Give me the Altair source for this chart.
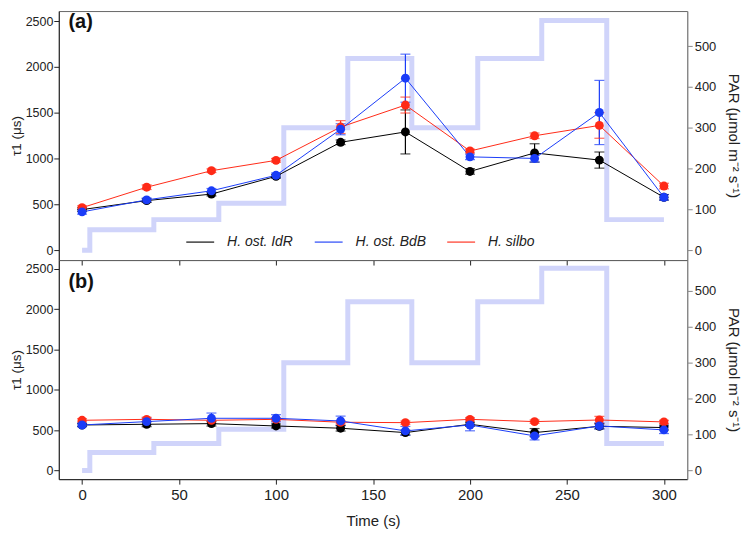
import altair as alt
import pandas as pd

# ---- data ----
times = [0, 33.3, 66.7, 100, 133.3, 166.7, 200, 233.3, 266.7, 300]
species = ["H. ost. IdR", "H. ost. BdB", "H. silbo"]
colors = ["#000000", "#1a3cf8", "#ff2a17"]

# panel (a)
a_idr = [445, 543, 614, 808, 1179, 1292, 861, 1063, 985, 579]
a_idr_err = [20, 20, 20, 20, 25, 240, 30, 100, 88, 30]
a_bdb = [420, 551, 650, 819, 1321, 1878, 1020, 1003, 1504, 579]
a_bdb_err = [25, 20, 25, 25, 60, 262, 30, 40, 350, 30]
a_sil = [466, 689, 869, 982, 1345, 1585, 1084, 1250, 1363, 702]
a_sil_err = [20, 25, 20, 20, 70, 87, 20, 30, 140, 30]

# panel (b)
b_idr = [566, 575, 583, 554, 526, 472, 575, 472, 550, 534]
b_idr_err = [20, 30, 30, 25, 35, 30, 25, 50, 30, 30]
b_bdb = [566, 608, 649, 649, 616, 493, 566, 431, 554, 505]
b_bdb_err = [20, 40, 65, 45, 60, 55, 72, 50, 40, 45]
b_sil = [624, 636, 624, 636, 600, 595, 636, 608, 628, 604]
b_sil_err = [20, 25, 20, 20, 20, 20, 20, 20, 45, 20]

# PAR light steps
par_t = [0, 4, 37, 70.5, 104, 137, 170, 204, 237, 270.5, 300]
par_v = [0, 50, 75, 115, 300, 470, 300, 470, 563, 75, 75]

panel_labels = ["(a)", "(b)"]
label_t = [-7, -7]
label_y = [2490, 2340]

# ---- tables ----
def make_df(series):
    rows = []
    # drawing order: black, red, blue (blue on top)
    for sp, vals, errs in series:
        for t, v, e in zip(times, vals, errs):
            rows.append({"time": t, "species": sp, "tau": v, "lo": v - e, "hi": v + e})
    return pd.DataFrame(rows)

df_a = make_df([(species[0], a_idr, a_idr_err), (species[2], a_sil, a_sil_err), (species[1], a_bdb, a_bdb_err)])
df_b = make_df([(species[0], b_idr, b_idr_err), (species[2], b_sil, b_sil_err), (species[1], b_bdb, b_bdb_err)])
df_par = pd.DataFrame({"time": par_t, "par": par_v})

FONT = "Liberation Sans"
W = 631
xdom = [-12, 312]
ydom = [-105, 2610]
pdom = [-24, 586]


def panel(df, label, height, show_x, show_legend):
    xscale = alt.Scale(domain=xdom, nice=False, zero=False)
    if show_x:
        xaxis = alt.Axis(values=[0, 50, 100, 150, 200, 250, 300], title="Time (s)",
                         labelFontSize=15, titleFontSize=15, titlePadding=12,
                         labelPadding=3, tickSize=5)
    else:
        xaxis = alt.Axis(values=[0, 50, 100, 150, 200, 250, 300], title=None,
                         labels=False, tickSize=5)
    yaxis = alt.Axis(values=[0, 500, 1000, 1500, 2000, 2500], title="τ1 (μs)", format="d",
                     orient="left", labelFontSize=12.5, titleFontSize=13.5,
                     tickSize=5, labelPadding=1, titlePadding=2)
    yscale = alt.Scale(domain=ydom, nice=False, zero=False)
    if show_legend:
        leg = alt.Legend(orient="none", legendX=127, legendY=217, direction="horizontal",
                         title=None, symbolType="stroke", symbolSize=784,
                         symbolStrokeWidth=1.5, symbolOpacity=0.75,
                         labelFontSize=14, labelFontStyle="italic", labelFont=FONT,
                         labelColor="#222", columnPadding=18, labelOffset=12)
    else:
        leg = None
    color = alt.Color("species:N", scale=alt.Scale(domain=species, range=colors), legend=leg)

    x = alt.X("time:Q", scale=xscale, axis=xaxis)
    y_tau = alt.Y("tau:Q", scale=yscale, axis=yaxis)

    base = alt.Chart(df)
    rule = base.mark_rule(strokeWidth=1.2).encode(
        x=x, y=alt.Y("lo:Q", scale=yscale, axis=yaxis), y2="hi:Q", color=color)
    tick_lo = base.mark_tick(orient="horizontal", size=10, thickness=1.2).encode(
        x=x, y=alt.Y("lo:Q", scale=yscale, axis=yaxis), color=color)
    tick_hi = base.mark_tick(orient="horizontal", size=10, thickness=1.2).encode(
        x=x, y=alt.Y("hi:Q", scale=yscale, axis=yaxis), color=color)
    line = base.mark_line(strokeWidth=1).encode(
        x=x, y=y_tau, color=color, detail="species:N")
    pts = base.mark_circle(size=80, opacity=1).encode(x=x, y=y_tau, color=color)
    txt = alt.Chart(pd.DataFrame({"time": [label[0]], "tau": [label[1]], "lab": [label[2]]})).mark_text(
        align="left", baseline="middle", fontSize=20, fontWeight="bold", font=FONT, color="#111"
    ).encode(x=x, y=y_tau, text="lab:N")

    inner = alt.layer(rule, tick_lo, tick_hi, line, pts, txt)

    par = alt.Chart(df_par).mark_line(interpolate="step-after", color="#cbcffa",
                                       strokeWidth=5, opacity=0.9).encode(
        x=x,
        y=alt.Y("par:Q", scale=alt.Scale(domain=pdom, nice=False, zero=False),
                axis=alt.Axis(values=[0, 100, 200, 300, 400, 500], orient="right",
                              title="PAR (μmol m⁻² s⁻¹)", labelFontSize=13,
                              titleFontSize=15, tickSize=5, labelPadding=2, titlePadding=10,
                              domainColor="#888", tickColor="#888")),
    )
    return alt.layer(par, inner).resolve_scale(y="independent").properties(width=W, height=height)


top = panel(df_a, (label_t[0], label_y[0], panel_labels[0]), 250, False, True)
bottom = panel(df_b, (label_t[1], label_y[1], panel_labels[1]), 220, True, False)

chart = alt.vconcat(top, bottom, spacing=0, bounds="flush").resolve_scale(
    color="independent").resolve_legend(color="independent").properties(
    padding={"top": 0, "left": 0, "right": 0, "bottom": 0}).configure_view(
    stroke="#666", strokeWidth=1).configure_axis(
    grid=False, labelFont=FONT, titleFont=FONT, labelColor="#222", titleColor="#222",
    tickColor="#222", domainColor="#222", titleFontWeight="normal")

chart.save("out.html", embed_options={"renderer": "svg", "actions": False})
